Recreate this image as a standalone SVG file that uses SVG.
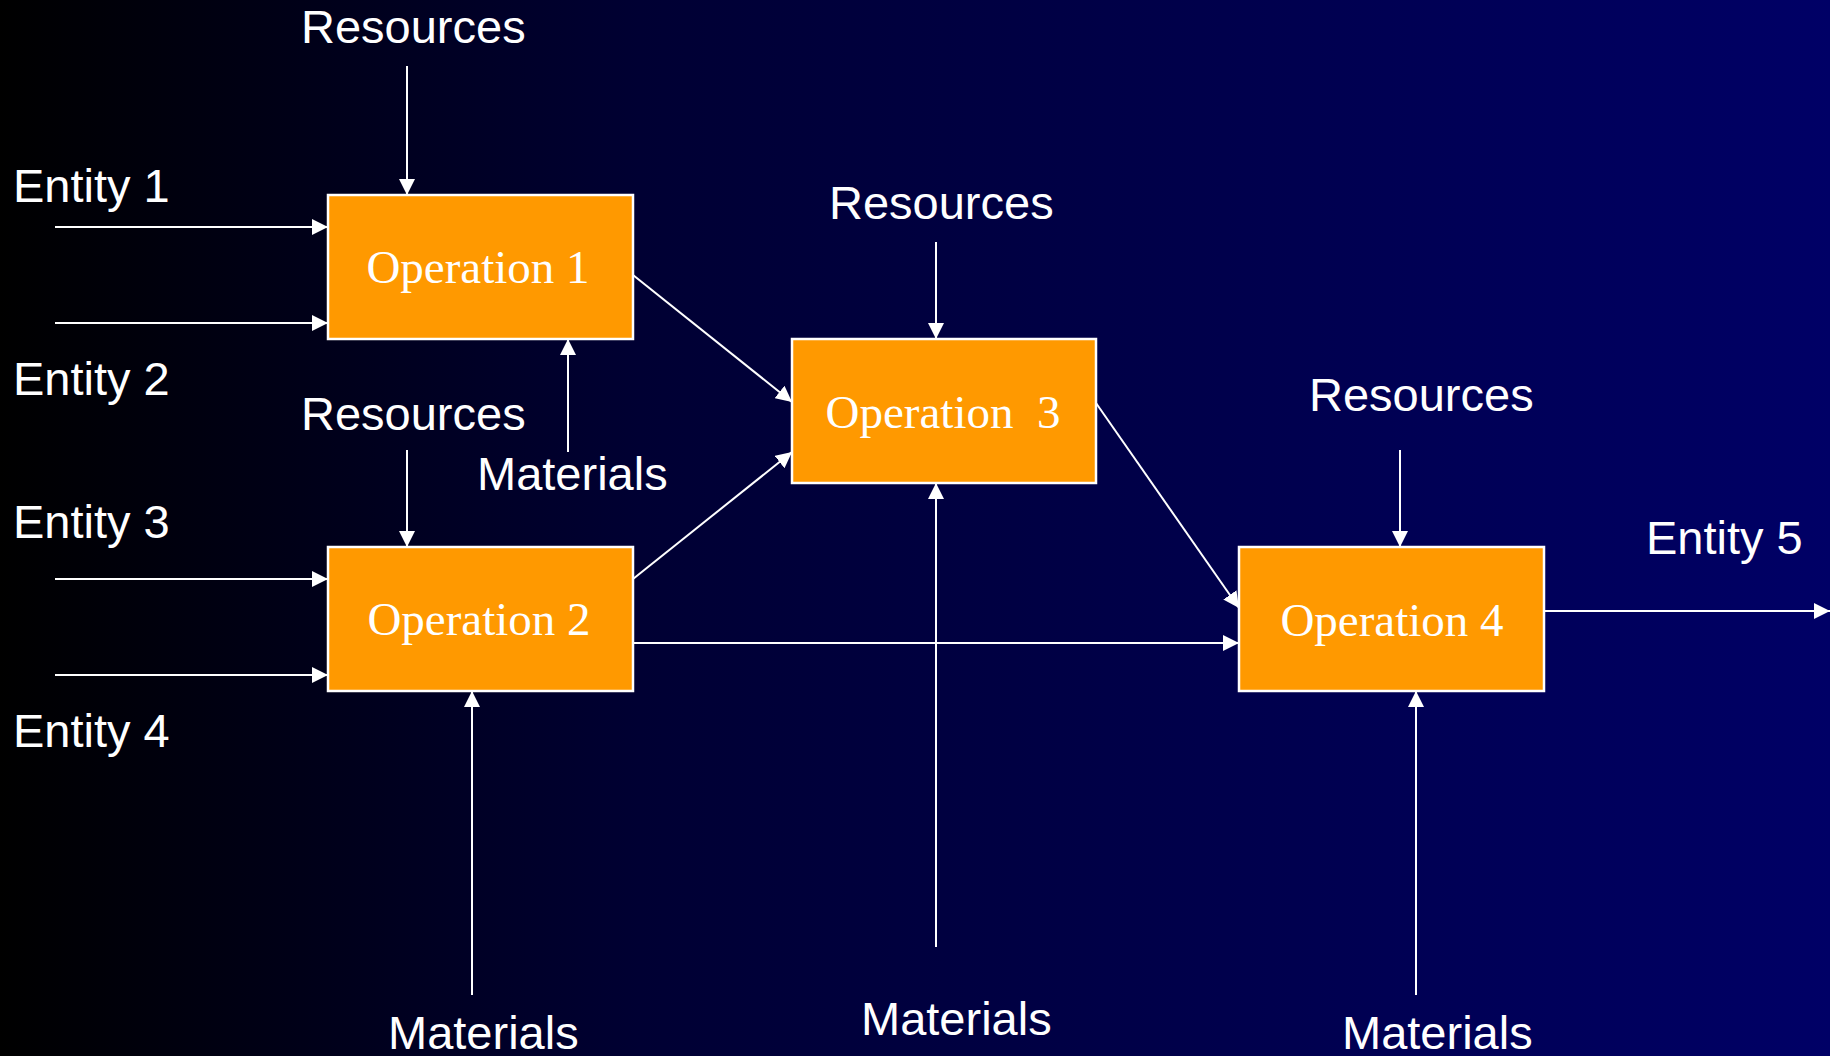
<svg xmlns="http://www.w3.org/2000/svg" width="1830" height="1056" viewBox="0 0 1830 1056">
<defs>
<linearGradient id="bg" x1="0" y1="0" x2="1" y2="0">
<stop offset="0" stop-color="#000000"/>
<stop offset="0.35" stop-color="#000033"/>
<stop offset="1" stop-color="#000066"/>
</linearGradient>
<marker id="ah" markerUnits="userSpaceOnUse" markerWidth="17" markerHeight="16" refX="16" refY="8" orient="auto">
<path d="M0,0 L16,8 L0,16 z" fill="#ffffff"/>
</marker>
<style>
.lbl{font-family:"Liberation Sans",Arial,sans-serif;font-size:47px;fill:#ffffff}
.op{font-family:"Liberation Serif","Times New Roman",serif;font-size:47px;fill:#ffffff;text-anchor:middle}
.box{fill:#ff9900;stroke:#ffffff;stroke-width:2.5}
.cn{stroke:#ffffff;stroke-width:2;fill:none;marker-end:url(#ah)}
</style>
</defs>
<rect x="0" y="0" width="1830" height="1056" fill="url(#bg)"/>
<g id="labels">
<text class="lbl" x="301" y="43">Resources</text>
<text class="lbl" x="13" y="202">Entity 1</text>
<text class="lbl" x="13" y="395">Entity 2</text>
<text class="lbl" x="301" y="430">Resources</text>
<text class="lbl" x="477" y="490">Materials</text>
<text class="lbl" x="13" y="538">Entity 3</text>
<text class="lbl" x="13" y="747">Entity 4</text>
<text class="lbl" x="829" y="219">Resources</text>
<text class="lbl" x="1309" y="411">Resources</text>
<text class="lbl" x="1646" y="554">Entity 5</text>
<text class="lbl" x="388" y="1049">Materials</text>
<text class="lbl" x="861" y="1035">Materials</text>
<text class="lbl" x="1342" y="1049">Materials</text>
</g>
<g id="op1"><rect class="box" x="328" y="195" width="305" height="144"/><text class="op" x="478" y="283">Operation 1</text></g>
<g id="op2"><rect class="box" x="328" y="547" width="305" height="144"/><text class="op" x="479" y="635">Operation 2</text></g>
<g id="op3"><rect class="box" x="792" y="339" width="304" height="144"/><text class="op" x="943" y="428" xml:space="preserve">Operation  3</text></g>
<g id="op4"><rect class="box" x="1239" y="547" width="305" height="144"/><text class="op" x="1392" y="636">Operation 4</text></g>
<g id="connectors">
<line class="cn" x1="407" y1="66" x2="407" y2="195"/>
<line class="cn" x1="55" y1="227" x2="328" y2="227"/>
<line class="cn" x1="55" y1="323" x2="328" y2="323"/>
<line class="cn" x1="568" y1="452" x2="568" y2="339"/>
<line class="cn" x1="407" y1="450" x2="407" y2="547"/>
<line class="cn" x1="55" y1="579" x2="328" y2="579"/>
<line class="cn" x1="55" y1="675" x2="328" y2="675"/>
<line class="cn" x1="472" y1="995" x2="472" y2="691"/>
<line class="cn" x1="633" y1="275" x2="792" y2="402"/>
<line class="cn" x1="633" y1="579" x2="792" y2="452"/>
<line class="cn" x1="936" y1="242" x2="936" y2="339"/>
<line class="cn" x1="936" y1="947" x2="936" y2="483"/>
<line class="cn" x1="1096" y1="403" x2="1239" y2="608"/>
<line class="cn" x1="633" y1="643" x2="1239" y2="643"/>
<line class="cn" x1="1400" y1="450" x2="1400" y2="547"/>
<line class="cn" x1="1416" y1="995" x2="1416" y2="691"/>
<line class="cn" x1="1544" y1="611" x2="1830" y2="611"/>
</g>
</svg>
